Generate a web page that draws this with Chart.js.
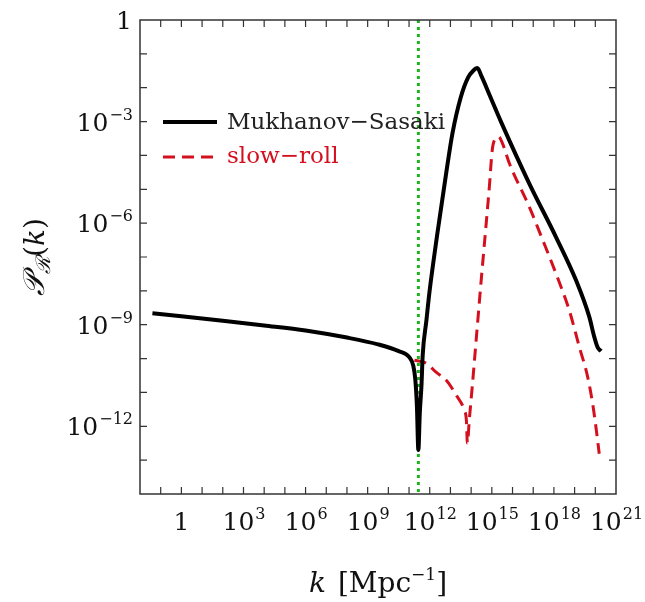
<!DOCTYPE html>
<html>
<head>
<meta charset="utf-8">
<script src="https://cdn.jsdelivr.net/npm/chart.js@4.4.1/dist/chart.umd.min.js"></script>
<style>
  html, body { margin: 0; padding: 0; background: #fff; }
</style>
</head>
<body>
<canvas id="chart" width="645" height="602"></canvas>
<script>
// log10(k) and log10(P)
const msLogK = [-1.4, 0, 2, 4, 6, 8, 9.5, 10.5, 11.0, 11.2, 11.3, 11.38, 11.45, 11.52, 11.6, 11.66, 11.84, 11.98, 12.37, 12.8, 13.1, 13.5, 13.85, 14.1, 14.3, 14.5, 14.88, 15.44, 16.81, 18.1, 19.07, 19.71, 19.95, 20.12, 20.28];
const msLogP = [-8.66, -8.75, -8.88, -9.02, -9.17, -9.38, -9.58, -9.78, -9.95, -10.2, -10.6, -11.4, -12.7, -11.6, -10.8, -9.9, -8.87, -8.07, -6.3, -4.5, -3.34, -2.28, -1.7, -1.5, -1.42, -1.66, -2.2, -3.0, -4.83, -6.41, -7.69, -8.77, -9.36, -9.68, -9.78];

const srLogK = [11.26, 11.84, 12.32, 12.8, 13.29, 13.67, 13.77, 13.82, 13.91, 14.06, 14.25, 14.49, 14.69, 14.88, 15.02, 15.15, 15.33, 15.5, 15.85, 16.81, 17.46, 18.1, 18.74, 19.23, 19.63, 19.87, 20.03, 20.19];
const srLogP = [-10.05, -10.14, -10.41, -10.64, -11.09, -11.53, -11.82, -12.5, -11.82, -10.79, -9.4, -7.66, -6.27, -4.93, -3.84, -3.52, -3.45, -3.62, -4.24, -5.52, -6.5, -7.49, -8.57, -9.66, -10.54, -11.33, -12.02, -12.81];

const kMarkLog = 11.45;           // green dotted line
const xRange = [-2, 21];          // decades
const yRange = [-14, 0];
const xLabelExps = [0, 3, 6, 9, 12, 15, 18, 21];
const yLabelExps = [0, -3, -6, -9, -12];

const toPoints = (lk, lp) => lk.map((v, i) => ({ x: Math.pow(10, v), y: Math.pow(10, lp[i]) }));

const SERIF = '"DejaVu Serif", serif';

// draws 10^e (or "1") with a raised exponent
function drawPow(ctx, e, x, y, align) {
  ctx.fillStyle = '#111';
  ctx.textBaseline = 'alphabetic';
  ctx.textAlign = 'left';
  if (e === 0) {
    ctx.font = '25px ' + SERIF;
    const w = ctx.measureText('1').width;
    const sx = align === 'right' ? x - w : x - w / 2;
    ctx.fillText('1', sx, y);
    return;
  }
  const ex = String(e).replace('-', '\u2212');
  ctx.font = '25px ' + SERIF;
  const w1 = ctx.measureText('10').width;
  ctx.font = '16px ' + SERIF;
  const w2 = ctx.measureText(ex).width;
  const sx = align === 'right' ? x - w1 - w2 : x - (w1 + w2) / 2;
  ctx.font = '25px ' + SERIF;
  ctx.fillText('10', sx, y);
  ctx.font = '16px ' + SERIF;
  ctx.fillText(ex, sx + w1 + 1, y - 11);
}

function drawPieces(ctx, pieces, cx, y) {
  let total = 0;
  pieces.forEach(p => { ctx.font = p.f; total += ctx.measureText(p.t).width + (p.gap || 0); });
  let x = cx - total / 2;
  pieces.forEach(p => {
    ctx.font = p.f;
    ctx.fillStyle = '#111';
    ctx.fillText(p.t, x, y + (p.dy || 0));
    x += ctx.measureText(p.t).width + (p.gap || 0);
  });
}

const framePlugin = {
  id: 'frame',
  afterDatasetsDraw(chart) {
    const { ctx, chartArea: a, scales } = chart;
    const xs = scales.x, ys = scales.y;
    ctx.save();

    // frame
    ctx.strokeStyle = '#333';
    ctx.lineWidth = 1.5;
    ctx.setLineDash([]);
    ctx.strokeRect(a.left, a.top, a.right - a.left, a.bottom - a.top);

    // inward ticks, one per decade
    ctx.lineWidth = 1.2;
    ctx.beginPath();
    for (let e = xRange[0] + 1; e < xRange[1]; e++) {
      const px = xs.getPixelForValue(Math.pow(10, e));
      ctx.moveTo(px, a.bottom); ctx.lineTo(px, a.bottom - 7);
      ctx.moveTo(px, a.top); ctx.lineTo(px, a.top + 7);
    }
    for (let e = yRange[0] + 1; e < yRange[1]; e++) {
      const py = ys.getPixelForValue(Math.pow(10, e));
      ctx.moveTo(a.left, py); ctx.lineTo(a.left + 7, py);
      ctx.moveTo(a.right, py); ctx.lineTo(a.right - 7, py);
    }
    ctx.stroke();

    // tick labels
    xLabelExps.forEach(e => drawPow(ctx, e, xs.getPixelForValue(Math.pow(10, e)), a.bottom + 36, 'center'));
    yLabelExps.forEach(e => drawPow(ctx, e, a.left - 8, ys.getPixelForValue(Math.pow(10, e)) + 9, 'right'));

    // legend
    ctx.lineWidth = 4;
    ctx.strokeStyle = '#000';
    ctx.beginPath(); ctx.moveTo(163, 122); ctx.lineTo(217, 122); ctx.stroke();
    ctx.lineWidth = 3;
    ctx.strokeStyle = '#d40f1e';
    ctx.setLineDash([12, 7]);
    ctx.beginPath(); ctx.moveTo(163, 157); ctx.lineTo(219, 157); ctx.stroke();
    ctx.setLineDash([]);
    ctx.font = '23px ' + SERIF;
    ctx.textAlign = 'left';
    ctx.textBaseline = 'middle';
    ctx.fillStyle = '#222';
    ctx.fillText('Mukhanov\u2212Sasaki', 227, 123);
    ctx.fillStyle = '#d40f1e';
    ctx.fillText('slow\u2212roll', 227, 157);

    // axis titles
    ctx.textBaseline = 'alphabetic';
    ctx.textAlign = 'left';
    drawPieces(ctx, [
      { t: 'k', f: 'italic 28px ' + SERIF, gap: 12 },
      { t: '[Mpc', f: '28px ' + SERIF },
      { t: '\u22121', f: '17px ' + SERIF, dy: -12 },
      { t: ']', f: '28px ' + SERIF }
    ], (a.left + a.right) / 2, 592);

    ctx.translate(34, (a.top + a.bottom) / 2);
    ctx.rotate(-Math.PI / 2);
    drawPieces(ctx, [
      { t: '\uD835\uDCAB', f: 'italic 30px ' + SERIF },
      { t: '\u211B', f: 'italic 20px ' + SERIF, dy: 6 },
      { t: '(', f: '28px ' + SERIF },
      { t: 'k', f: 'italic 28px ' + SERIF },
      { t: ')', f: '28px ' + SERIF }
    ], 0, 10);

    ctx.restore();
  }
};

new Chart(document.getElementById('chart'), {
  type: 'line',
  data: {
    datasets: [
      {
        label: 'Mukhanov\u2212Sasaki',
        data: toPoints(msLogK, msLogP),
        borderColor: '#000',
        borderWidth: 4,
        borderJoinStyle: 'round',
        pointRadius: 0,
        cubicInterpolationMode: 'monotone'
      },
      {
        label: 'slow\u2212roll',
        data: toPoints(srLogK, srLogP),
        borderColor: '#d40f1e',
        borderWidth: 3,
        borderDash: [12, 7],
        pointRadius: 0,
        cubicInterpolationMode: 'monotone'
      },
      {
        label: 'k*',
        data: [
          { x: Math.pow(10, kMarkLog), y: Math.pow(10, yRange[1]) },
          { x: Math.pow(10, kMarkLog), y: Math.pow(10, yRange[0]) }
        ],
        borderColor: '#1db31d',
        borderWidth: 3,
        borderDash: [3, 4],
        pointRadius: 0
      }
    ]
  },
  options: {
    responsive: false,
    animation: false,
    layout: { padding: { left: 140, right: 29, top: 20, bottom: 108 } },
    scales: {
      x: { type: 'logarithmic', display: false, min: Math.pow(10, xRange[0]), max: Math.pow(10, xRange[1]) },
      y: { type: 'logarithmic', display: false, min: Math.pow(10, yRange[0]), max: Math.pow(10, yRange[1]) }
    },
    plugins: { legend: { display: false }, tooltip: { enabled: false } }
  },
  plugins: [framePlugin]
});
</script>
</body>
</html>
